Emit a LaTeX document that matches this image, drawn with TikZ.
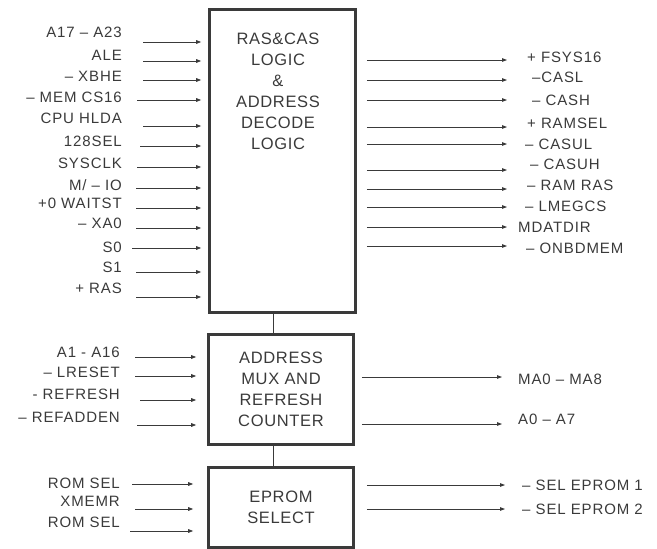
\documentclass[tikz,border=0pt]{standalone}
\usepackage{fontspec}
\setmainfont{Liberation Sans}
\newfontfamily\pinfont{Liberation Sans}[LetterSpace=6]
\newfontfamily\blockfont{Liberation Sans}[LetterSpace=4]
\usetikzlibrary{arrows.meta, positioning}
\definecolor{inkgray}{HTML}{3A3A3A}
\tikzset{
	pinlabel/.style={font=\pinfont\fontsize{15}{15}\selectfont, text=inkgray, inner sep=0pt}
}
\tikzset{
	blocktext/.style={font=\blockfont\fontsize{16.5}{21}\selectfont, text=inkgray, align=center},
	blockbox/.style={draw=inkgray, line width=2.6pt, inner sep=0pt},
	sigline/.style={draw=inkgray, line width=0.8pt, -{Triangle[length=5pt,width=3.6pt]}},
	linkline/.style={draw=inkgray, line width=1pt}
}

\begin{document}
\begin{tikzpicture}[x=1pt,y=-1pt]
      \useasboundingbox (0,0) rectangle (657,549);
      % the three blocks
      \node[blockbox, minimum width=146pt, minimum height=303pt] (ras) at (282.5,161) {};
      \node[blocktext] (rastxt) at (278,91) {RAS\&CAS\\LOGIC\\\&\\ADDRESS\\DECODE\\LOGIC};
      \node[blockbox, blocktext, minimum width=145pt, minimum height=110pt] (mux) at (281,389.5)
        {ADDRESS\\MUX AND\\REFRESH\\COUNTER};
      \node[blockbox, blocktext, minimum width=145pt, minimum height=80pt] (eprom) at (281,507.5)
        {EPROM\\SELECT};
      \coordinate (lnk) at (273,0);
      \draw[linkline] (ras.south -| lnk) -- (mux.north -| lnk);
      \draw[linkline] (mux.south -| lnk) -- (eprom.north -| lnk);
      % inputs of the RAS/CAS block
      \foreach \x/\y/\ly/\l [count=\i] in {
        143/42/32/A17 – A23, 143/61/55/ALE, 143/80/76/– XBHE, 137/100/97/– MEM CS16,
        143/126/118/CPU HLDA, 140/146/141/128SEL, 137/167/163/SYSCLK, 136/188/185/{M/ – IO},
        136/208/203/+0 WAITST, 136/228/223/– XA0, 132/248/247/S0, 136/272/267/S1,
        136/297/288/+ RAS} {
        \coordinate (rasin\i) at (\x,\y);
        \node[pinlabel, anchor=east] (raslab\i) at (122,\ly) {\l};
        \draw[sigline, shorten >=7pt] (rasin\i) -- (rasin\i -| ras.west);
      }
      % outputs of the RAS/CAS block
      \foreach \y/\lx/\ly/\l [count=\i] in {
        60/527/57/+ FSYS16, 80/532/77/–CASL, 100/532/100/– CASH, 127/527/123/+ RAMSEL,
        144/525/144/– CASUL, 170/530/164/– CASUH, 189/527/185/– RAM RAS, 207/525/206/– LMEGCS,
        227/518/227/MDATDIR, 246/526/248/– ONBDMEM} {
        \coordinate (rasout\i) at (507,\y);
        \node[pinlabel, anchor=west] (rasolab\i) at (\lx,\ly) {\l};
        \draw[sigline, shorten <=10pt] (rasout\i -| ras.east) -- (rasout\i);
      }
      % address mux
      \foreach \x/\y/\ly/\l [count=\i] in {
        135/357/352/A1 - A16, 135/376/372/– LRESET, 140/400/394/- REFRESH, 137/425/417/– REFADDEN} {
        \coordinate (muxin\i) at (\x,\y);
        \node[pinlabel, anchor=east] (muxlab\i) at (120,\ly) {\l};
        \draw[sigline, shorten >=11pt] (muxin\i) -- (muxin\i -| mux.west);
      }
      \foreach \y/\ly/\l [count=\i] in {377/379/MA0 – MA8, 424/419/A0 – A7} {
        \coordinate (muxout\i) at (502,\y);
        \node[pinlabel, anchor=west] (muxolab\i) at (518,\ly) {\l};
        \draw[sigline, shorten <=7pt] (muxout\i -| mux.east) -- (muxout\i);
      }
      % eprom select
      \foreach \x/\y/\ly/\l [count=\i] in {
        132/484/483/ROM SEL, 135/509/501/XMEMR, 130/531/522/ROM SEL} {
        \coordinate (epin\i) at (\x,\y);
        \node[pinlabel, anchor=east] (eplab\i) at (120,\ly) {\l};
        \draw[sigline, shorten >=14pt] (epin\i) -- (epin\i -| eprom.west);
      }
      \foreach \y/\l [count=\i] in {485/– SEL EPROM 1, 509/– SEL EPROM 2} {
        \coordinate (epout\i) at (505,\y);
        \node[pinlabel, anchor=west] (epolab\i) at (522,\y) {\l};
        \draw[sigline, shorten <=12pt] (epout\i -| eprom.east) -- (epout\i);
      }
    \end{tikzpicture}
\end{document}
